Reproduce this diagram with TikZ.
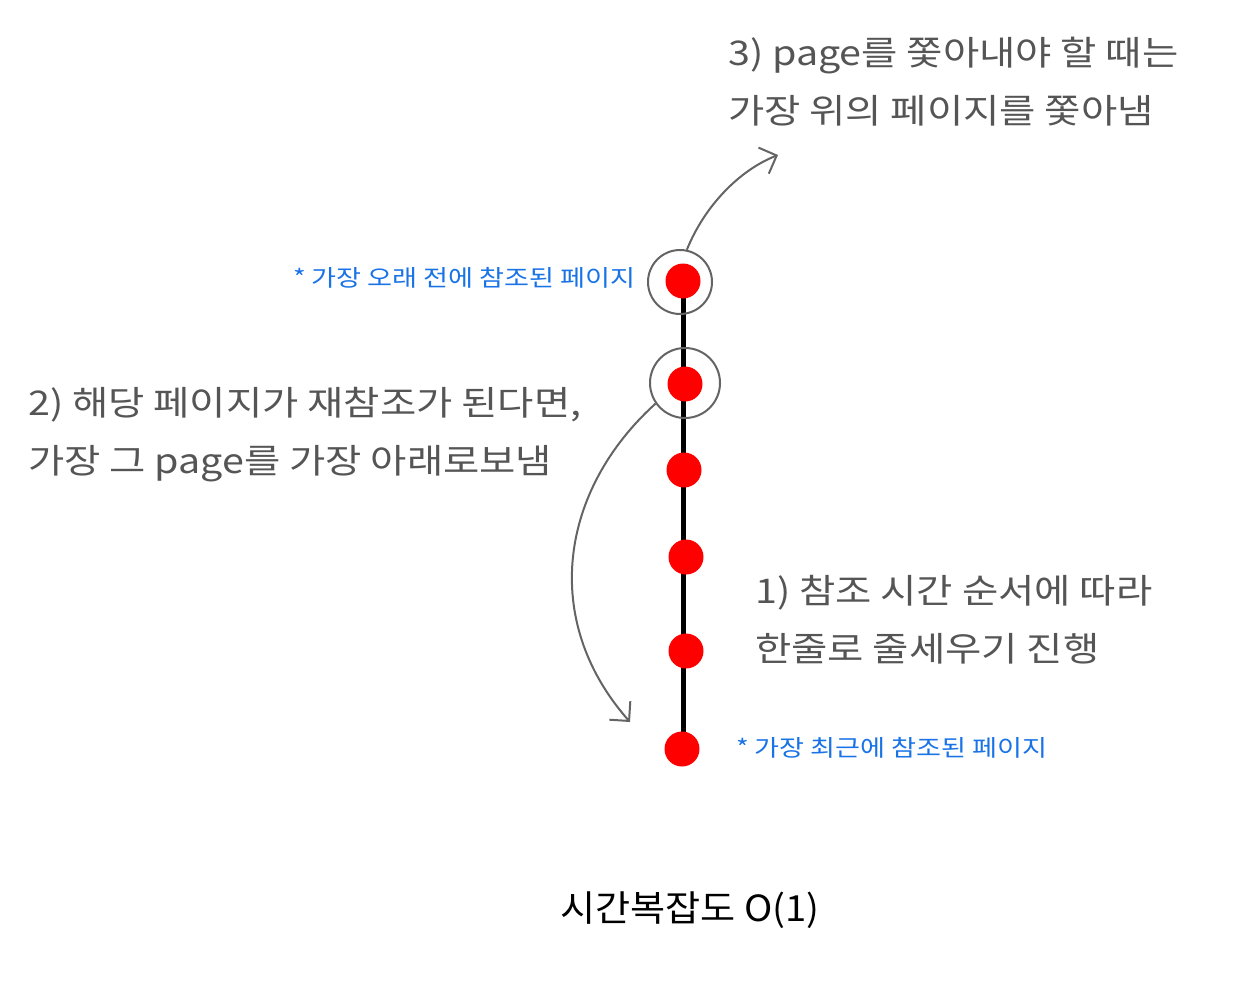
\documentclass[tikz,border=0pt]{standalone}
\usepackage{fontspec}
\setmainfont{Noto Sans CJK KR}
\newfontfamily\handfont[FakeStretch=1.16]{Noto Sans CJK KR}
\newfontfamily\tagfont[FakeStretch=1.18]{Noto Sans CJK KR}
\newfontfamily\titlefont[FakeStretch=1.06]{Noto Sans CJK KR}
\usetikzlibrary{arrows.meta}
\definecolor{note}{RGB}{85,85,85}
\definecolor{bluenote}{RGB}{25,115,230}
\definecolor{dotred}{RGB}{255,0,0}
\definecolor{ring}{RGB}{100,100,100}
\tikzset{
  dot/.style={circle,fill=dotred,minimum size=35pt,inner sep=0pt},
  ringc/.style={circle,draw=ring,line width=2pt,inner sep=0pt},
  hand/.style={text=note,font=\handfont\fontsize{34}{58}\selectfont,align=left,anchor=west,inner sep=0pt},
  tag/.style={text=bluenote,font=\tagfont\fontsize{23}{26}\selectfont,inner sep=0pt},
  arr/.style={draw=ring,line width=2pt,-{Straight Barb[length=14pt,width=28pt,line width=2pt]}}
}
\begin{document}
\begin{tikzpicture}[x=1pt,y=-1pt]
\useasboundingbox (0,0) rectangle (1238,1000);
\draw[line width=5pt] (683,281) -- (683,749);
\node[dot] (d1) at (683,281) {};
\node[dot] (d2) at (685,384) {};
\node[dot] (d3) at (684,470) {};
\node[dot] (d4) at (686,557) {};
\node[dot] (d5) at (686,651) {};
\node[dot] (d6) at (682,749) {};
\node[ringc,minimum size=64pt] (r1) at (680,282) {};
\node[ringc,minimum size=70pt] (r2) at (685,383) {};
\coordinate (t1) at (778,155);
\coordinate (t2) at (630,722);
\draw[arr] (r1.78) .. controls (705,205) and (740,170) .. (t1);
\draw[arr] (r2.215) .. controls (560,490) and (540,620) .. (t2);
\node[hand] (n3) at (728,82) {3) page를 쫓아내야 할 때는\\가장 위의 페이지를 쫓아냄};
\node[hand] (n2) at (28,435) {2) 해당 페이지가 재참조가 된다면,\\가장 그 page를 가장 아래로보냄};
\node[hand] (n1) at (755,620) {1) 참조 시간 순서에 따라\\한줄로 줄세우기 진행};
\node[tag,anchor=east] (b1) at (636,278) {* 가장 오래 전에 참조된 페이지};
\node[tag,anchor=west] (b2) at (736,748) {* 가장 최근에 참조된 페이지};
\node[font=\titlefont\fontsize{36}{40}\selectfont,inner sep=0pt] (title) at (690,910) {시간복잡도 O(1)};
\end{tikzpicture}
\end{document}
